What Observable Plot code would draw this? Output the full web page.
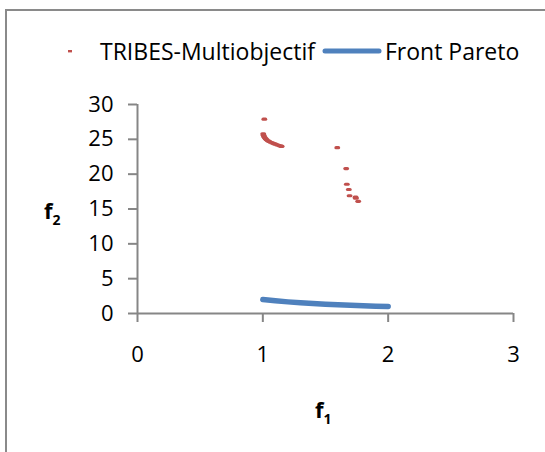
<!DOCTYPE html>
<html>
<head>
<meta charset="utf-8">
<script src="https://cdn.jsdelivr.net/npm/d3@7"></script>
<script src="https://cdn.jsdelivr.net/npm/@observablehq/plot@0.6"></script>
<style>
  html, body { margin: 0; padding: 0; background: #fff; }
  #wrap { position: relative; width: 545px; height: 452px; overflow: hidden; font-family: "Open Sans", sans-serif; color: #000; }
  #frame { position: absolute; left: 5px; top: 9px; width: 600px; height: 600px; border-left: 2px solid #8a8a8a; border-top: 2px solid #8a8a8a; }
  #chart { position: absolute; left: 0; top: 0; }
  .lbl { position: absolute; font-weight: bold; font-size: 22px; line-height: 1; }
  .lbl sub { font-size: 14px; vertical-align: -6px; }
  #legend { position: absolute; top: 36px; left: 60px; font-size: 23px; line-height: 30px; white-space: nowrap; display: flex; align-items: center; }
</style>
</head>
<body>
<div id="wrap">
  <div id="chart"></div>
  <div id="frame"></div>
  <div id="legend"></div>
  <div class="lbl" id="ylab" style="left:44px; top:199px;">f<sub>2</sub></div>
  <div class="lbl" id="xlab" style="left:315px; top:398px;">f<sub>1</sub></div>
</div>
<script>
// TRIBES-Multiobjectif solutions (f1, f2)
const tribesF1 = [1.012, 1.003, 1.006, 1.010, 1.015, 1.022, 1.030, 1.040, 1.050, 1.062, 1.075, 1.088, 1.100, 1.115, 1.130, 1.145, 1.150,
                  1.594, 1.665, 1.670, 1.686, 1.692, 1.740, 1.742, 1.761];
const tribesF2 = [27.9, 25.8, 25.6, 25.4, 25.25, 25.1, 24.95, 24.8, 24.7, 24.58, 24.48, 24.38, 24.3, 24.2, 24.1, 24.02, 24.0,
                  23.8, 20.8, 18.55, 17.8, 16.9, 16.7, 16.55, 16.1];
// Front Pareto (f1, f2)
const paretoF1 = [1.0, 1.1, 1.2, 1.3, 1.4, 1.5, 1.6, 1.7, 1.8, 1.9, 2.0];
const paretoF2 = [2.0, 1.82, 1.67, 1.54, 1.43, 1.33, 1.25, 1.18, 1.11, 1.05, 1.0];
// axes
const xTicks = [0, 1, 2, 3];
const yTicks = [0, 5, 10, 15, 20, 25, 30];
const seriesNames = ["TRIBES-Multiobjectif", "Front Pareto"];
const colors = ["#C0504D", "#4F81BD"];
const axisGray = "#868686";

const tribes = tribesF1.map((x, i) => ({x, y: tribesF2[i]}));
const pareto = paretoF1.map((x, i) => ({x, y: paretoF2[i]}));

// short horizontal dash marker with rounded ends
const dash = { draw(ctx, size) {
  ctx.moveTo(-1.3, -1.6); ctx.lineTo(1.3, -1.6);
  ctx.arc(1.3, 0, 1.6, -Math.PI / 2, Math.PI / 2);
  ctx.lineTo(-1.3, 1.6);
  ctx.arc(-1.3, 0, 1.6, Math.PI / 2, 3 * Math.PI / 2);
  ctx.closePath();
} };

const plot = Plot.plot({
  width: 545, height: 452,
  marginLeft: 137, marginRight: 32, marginTop: 104, marginBottom: 139,
  style: { fontFamily: "'Open Sans', sans-serif", fontSize: "22px", color: "#000", background: "transparent", overflow: "visible" },
  x: { domain: [0, 3] },
  y: { domain: [0, 30] },
  marks: [
    Plot.ruleY([0], { stroke: axisGray, strokeWidth: 2 }),
    Plot.ruleX([0], { stroke: axisGray, strokeWidth: 2 }),
    Plot.axisX({ ticks: xTicks, tickSize: 9, tickPadding: 24, stroke: axisGray, strokeWidth: 2, strokeOpacity: 1, label: null, fill: "#000", tickFormat: d => String(d) }),
    Plot.axisY({ ticks: yTicks, tickSize: 9, tickPadding: 15, stroke: axisGray, strokeWidth: 2, strokeOpacity: 1, label: null, fill: "#000", tickFormat: d => String(d) }),
    Plot.line(pareto, { x: "x", y: "y", stroke: colors[1], strokeWidth: 5.5, strokeLinecap: "round", strokeLinejoin: "round" }),
    Plot.dot(tribes, { x: "x", y: "y", symbol: dash, r: 3, fill: colors[0], stroke: null })
  ]
});
document.getElementById("chart").appendChild(plot);

// Legend
const leg = document.getElementById("legend");
leg.innerHTML =
  `<svg width="20" height="10" style="margin-right:20px"><rect x="8" y="4" width="4" height="2.4" fill="${colors[0]}"/></svg>` +
  `<span>${seriesNames[0]}</span>` +
  `<svg width="62" height="10" style="margin:0 2px 0 6px"><line x1="4" y1="5" x2="58" y2="5" stroke="${colors[1]}" stroke-width="5" stroke-linecap="round"/></svg>` +
  `<span>${seriesNames[1]}</span>`;
</script>
</body>
</html>
